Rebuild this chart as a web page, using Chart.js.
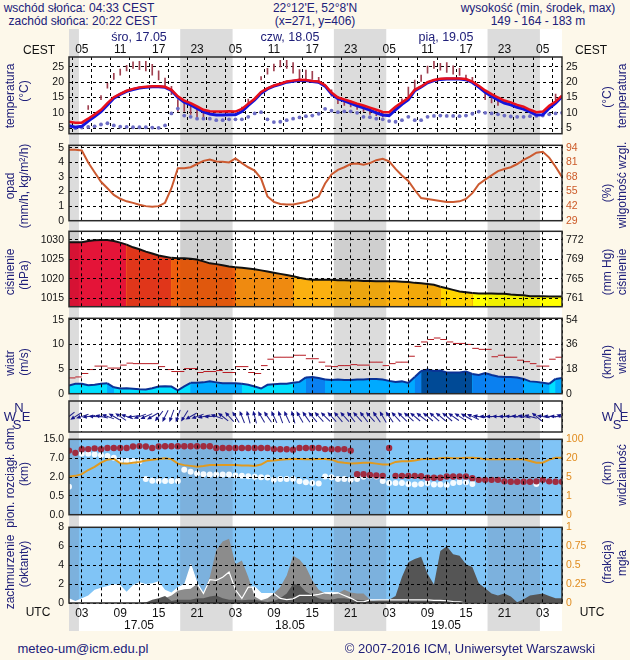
<!DOCTYPE html>
<html>
<head>
<meta charset="utf-8">
<title>meteogram</title>
<script src="https://cdn.jsdelivr.net/npm/chart.js@4/dist/chart.umd.min.js"></script>
<style>
    html, body { margin: 0; padding: 0; background: #fdf8ea; }
    body { position: relative; width: 630px; height: 660px; overflow: hidden; font-family: "Liberation Sans", Arial, sans-serif; }
    canvas { position: absolute; left: 0; }
    .txt { position: absolute; white-space: nowrap; font-size: 12px; color: #20207a; line-height: 1; }
</style>
</head>
<body>
<script>
// hours since 01 UTC on 17.05, one point per hour
var hours = [];
for (var h = 0; h <= 77; h++) hours.push(h);
var gridHours = [2, 5, 8, 11, 14, 17, 20, 23, 26, 29, 32, 35, 38, 41, 44, 47, 50, 53, 56, 59, 62, 65, 68, 71, 74, 77];
var cestLabels = ['05', '11', '17', '23', '05', '11', '17', '23', '05', '11', '17', '23', '05'];
var utcLabels = ['03', '09', '15', '21', '03', '09', '15', '21', '03', '09', '15', '21', '03'];
var nightBands = [[0, 1.55], [17.37, 25.55], [41.37, 49.55], [65.37, 73.55]];

var tempRed = [
    7.1, 6.8, 6.8, 8.1, 9.5, 11, 13.2, 15.1, 16.2, 17.2,
    17.8, 18.3, 18.5, 18.7, 18.7, 18.5, 17.5, 15.4, 14, 13.2,
    12.1, 11, 10.5, 10.4, 10.4, 10.5, 10.4, 11.3, 13, 14.6,
    16.8, 18, 18.9, 19.5, 20.2, 20.5, 20.8, 20.7, 20.4, 20.2,
    19, 16.6, 15, 14.4, 13.7, 13, 12.4, 11.7, 11, 10.3,
    10.2, 12, 13.4, 14.9, 17.5, 18.6, 20, 20.7, 21.1, 21.2,
    21.2, 21.2, 21, 20.2, 18.8, 17.3, 16.1, 15, 14, 13.4,
    12.6, 12, 11, 10.2, 10.4, 12.3, 13.7, 15.6
];
var tempBlue = [
    5.8, 5.3, 5.6, 7.3, 8.8, 10.4, 12.6, 14.8, 16, 17,
    17.6, 18.1, 18.3, 18.5, 18.5, 18.3, 17.3, 15, 13.5, 12.6,
    11.4, 10.3, 9.6, 9.3, 9.3, 9.4, 9.4, 10.4, 12.4, 14.2,
    16.4, 17.8, 18.7, 19.3, 20, 20.3, 20.6, 20.5, 20.2, 20,
    18.7, 16.2, 14.6, 13.9, 13.1, 12.3, 11.6, 10.9, 10, 9.3,
    9.1, 11, 12.8, 14.3, 17.2, 18.4, 19.8, 20.5, 20.9, 21,
    21, 21, 20.8, 19.9, 18.4, 16.7, 15.4, 14.2, 13.2, 12.6,
    11.8, 11.2, 10.3, 9.3, 9.4, 11.5, 13.2, 15.3
];
var dewPoint = [
    5.6, 5, 5.2, 5.4, 5.6, 6.2, 6.6, 5.9, 5.5, 5.4,
    5.3, 5.3, 5.3, 5.2, 5.1, 5.9, 9.8, 11.4, 9.1, 8.7,
    8.1, 8.1, 8.1, 7.6, 7.6, 7.9, 7.9, 7.9, 8.7, 9.8,
    10.2, 7.9, 7, 7.1, 7.6, 8.1, 8.5, 8.9, 9.1, 9.7,
    11.3, 10.7, 10.2, 10.5, 10.5, 10, 8.7, 8.6, 8.1, 7.9,
    7.3, 7.1, 7.6, 8.7, 7.6, 7.6, 8.7, 9, 9.1, 9,
    9, 8.9, 9.1, 9.7, 10.4, 10, 9.8, 9.5, 9.1, 8.8,
    8.7, 8.7, 8.9, 9, 9.1, 9.5, 9.8, 10
];
var tempSpreadTop = [
    null, null, null, 12.4, null, 15.6, 19.6, 22.9, 24.3, 25.5,
    26.6, 26.8, 26.8, 25.8, 23.7, 21.3, 18.6, 14.3, 13.8, 12.4,
    11.3, 10.9, null, null, null, null, null, 11.9, 14.5, null,
    21.8, 24.5, 25.9, 27.1, 27.1, 26.4, 24.1, 23.9, 23.5, 21.6,
    null, 17.5, 15.4, 14.3, 13.8, 12.7, 12.1, 11.6, 11.1, 10.5,
    null, null, 14.6, 18.4, 20.7, 22.3, 25.2, 26.8, 26.1, 26.4,
    25.3, 24.5, 22.3, 21.6, null, 16.6, 15.9, 14.8, null, null,
    null, null, null, null, null, null, 16.1, null
];
var tempSpreadBottom = [
    null, null, null, 11.1, null, 14.3, 18, 20.9, 22.3, 23.7,
    24.5, 24.1, 23.7, 22.3, 20.7, 18.8, 15.9, 10.5, 10.5, 9.5,
    8.1, 7.9, null, null, null, null, null, 10.5, 13, null,
    20.7, 22.6, 23.7, 25, 24.5, 22.9, 21.1, 21.1, 20.9, 19.6,
    null, 15.4, 13, 12.4, 11.9, 11.1, 10.5, 9.5, 9.1, 8.7,
    null, null, 13.2, 15.1, 17.5, 20.2, 22.9, 24.5, 23.9, 23.2,
    22.6, 22.2, 20.5, 19.9, null, 14.3, 13.2, 12.4, null, null,
    null, null, null, null, null, null, 14.3, null
];
var humidity = [
    92.3, 92.3, 91.7, 81, 72.3, 63.7, 58, 52, 48.6, 46.3,
    44.9, 43.2, 42, 41.4, 42, 45, 58, 75.8, 75.8, 76.7,
    79.6, 82.4, 83.6, 81.9, 81.6, 81, 84.5, 80.4, 76.7, 73.8,
    66.6, 50.7, 45.8, 44, 43.4, 43.4, 44.6, 45.8, 47.8, 50.7,
    62.2, 70.3, 74.4, 76.7, 79.6, 80.1, 79, 80.4, 83, 84.2,
    81.9, 75.2, 69.4, 64.5, 56.4, 49.2, 48.4, 47.5, 46.6, 45.8,
    45.8, 46.3, 48.4, 53.6, 61.6, 65.7, 69.4, 73.2, 75.2, 76.7,
    79.6, 83.3, 86.2, 89.7, 90.5, 85.3, 77.2, 68
];
var pressure = [
    1029.4, 1029.4, 1029.4, 1029.7, 1029.9, 1030, 1030, 1029.7, 1029.3, 1028.8,
    1028.1, 1027.6, 1027, 1026.5, 1026, 1025.7, 1025.4, 1025.3, 1025.3, 1025.2,
    1025, 1024.5, 1024, 1023.8, 1023.5, 1023.2, 1023, 1022.9, 1022.7, 1022.5,
    1022.2, 1021.9, 1021.6, 1021.3, 1021, 1020.7, 1020.3, 1020, 1019.8, 1019.8,
    1019.8, 1019.8, 1019.7, 1019.7, 1019.6, 1019.6, 1019.5, 1019.5, 1019.4, 1019.4,
    1019.4, 1019.4, 1019.3, 1019.2, 1019, 1018.9, 1018.7, 1018.5, 1018, 1017.6,
    1017.2, 1016.8, 1016.6, 1016.4, 1016.3, 1016.3, 1016.3, 1016.2, 1016.2, 1016,
    1015.9, 1015.8, 1015.6, 1015.6, 1015.6, 1015.5, 1015.5, 1015.5
];
var windMean = [
    1.65, 2, 2, 1.7, 1.8, 2, 2.1, 1.3, 1.05, 1.1,
    1, 0.9, 0.85, 1.1, 1.45, 1.5, 1.45, 0.7, 1.5, 2.2,
    2.2, 2.3, 2.5, 2.3, 2.1, 2.1, 2.1, 2, 1.8, 1.45,
    1.05, 1.8, 1.9, 2, 2, 2.2, 2.4, 3.3, 3.4, 3.2,
    2.9, 2.8, 2.9, 2.8, 2.8, 2.9, 2.9, 3, 3, 2.9,
    2.6, 2.4, 2.5, 2.2, 3.4, 4.6, 4.9, 4.6, 4.7, 4.3,
    4.3, 4.3, 4.5, 4, 3.8, 4.2, 3.8, 3.5, 3.4, 3.4,
    3.3, 3, 2.5, 2.4, 2.2, 2, 3, 3.2
];
var windGust = [
    3.2, 3.4, 4.1, 4.9, 5.6, 5.6, 5.2, 5.2, 5.8, 6.2,
    6.1, 6.1, 6.1, 6.1, 5.5, 4.9, 4.5, 4.5, 5.1, 5.1,
    4.3, 4.5, 4.5, 4.7, 4.3, 4.3, 5.5, 5.5, 4.3, 4.1,
    5.7, 7, 7.4, 7.4, 7.4, 7.8, 7.8, 7.1, 7.1, 6.4,
    5.6, 5.5, 5.7, 5.7, 5.9, 5.8, 5.8, 6.4, 6.4, 5.7,
    6.1, 6.4, 6.4, 7.6, 9.6, 10.5, 11, 11.3, 11, 10.5,
    10.2, 10.2, 10, 9.2, 9, 9, 7.5, 7.8, 7.4, 7.4,
    6.8, 6.5, 6.1, 5.6, 5.6, 7, 7.4
];
// heading the wind blows towards, degrees clockwise from north
var windHeading = [
    232, 238, 252, 262, 272, 282, 290, 300, 304, 290,
    262, 250, 246, 240, 218, 206, 200, 200, 212, 240,
    250, 258, 268, 290, 308, 318, 328, 338, 345, 345,
    330, 325, 335, 340, 335, 345, 330, 325, 320, 318,
    315, 318, 320, 318, 322, 318, 322, 318, 325, 330,
    325, 318, 315, 312, 310, 308, 310, 312, 310, 310,
    305, 303, 300, 295, 280, 272, 270, 272, 272, 275,
    278, 282, 285, 310, 280, 275, 275, 290
];
// the chm./visibility axis is stretched, so these three are read in tick steps (0..4)
var cloudBaseSteps = [
    3.4, 3.28, 3.47, 3.48, 3.52, 3.47, 3.54, 3.54, 3.54, 3.54,
    3.62, 3.64, 3.62, 3.54, 3.62, 3.63, 3.63, 3.63, 3.63, 3.63,
    3.63, 3.63, 3.63, 3.54, 3.54, 3.54, 3.54, 3.54, 3.54, 3.54,
    3.54, 3.54, 3.48, 3.47, 3.47, 3.45, 3.54, 3.54, 3.54, 3.54,
    3.48, 3.47, 3.47, 3.48, 3.4, 2.15, 2.15, 2.11, 2.08, 2.06,
    3.54, 2.06, 2.06, 2.06, 2.06, 2.04, 1.96, 1.96, 1.96, 2.03,
    2.03, 2.03, 2.03, 1.94, 1.85, 1.85, 1.85, 1.85, 1.77, 1.75,
    1.75, 1.75, 1.75, 1.77, 1.85, 1.77, 1.75, 1.75
];
var mixingSteps = [
    1.48, null, 3.23, 3.23, 3.19, 3.16, 3.12, 3.02, 2.88, 2.85,
    2.85, 2.82, 1.89, 1.8, 1.79, 1.79, 1.79, 1.79, 2.39, 2.28,
    2.18, 2.15, 2.13, 2.13, 2.13, 2.13, 2.08, 2.06, 2.04, 2.01,
    1.99, 1.97, 1.85, 1.89, 1.89, 1.89, 1.77, 1.72, 1.68, 1.65,
    2.03, 1.99, 1.89, 1.89, 1.85, 1.89, 2.01, 2.06, 2.03, 1.79,
    1.68, 1.68, 1.68, 1.63, 1.6, 1.63, 1.68, 1.6, 1.6, 1.58,
    1.68, 1.72, 1.72, 1.63, null, null, null, null, null, null,
    null, null, null, 1.63, null, null, null, null
];
var visibilitySteps = [
    2.03, 2.06, 2.15, 2.37, 2.54, 2.76, 2.92, 2.97, 2.73, 2.71,
    2.76, 2.8, 2.88, 2.92, 2.95, 2.99, 2.95, 2.71, 2.63, 2.59,
    2.54, 2.58, 2.63, 2.63, 2.63, 2.63, 2.63, 2.61, 2.61, 2.59,
    2.66, 2.85, 2.88, 2.92, 2.94, 2.95, 2.95, 2.94, 2.94, 2.95,
    2.95, 2.92, 2.8, 2.75, 2.71, 2.73, 2.75, 2.76, 2.71, 2.66,
    2.66, 2.8, 2.83, 2.83, 2.88, 2.94, 2.97, 2.95, 2.99, 3.02,
    3, 3, 3.02, 3.02, 3, 2.94, 2.94, 2.94, 2.94, 2.94,
    2.95, 2.94, 2.85, 2.76, 2.76, 2.92, 3.02, 3.02
];
var cloudHigh = [
    0.5, 0.2, 0.5, 0.8, 1.4, 1.6, 1.8, 2, 1.9, 1.2,
    1.9, 2.2, 2, 2.1, 2.3, 1.4, 1.1, 1.7, 2, 4.1,
    2.1, 1, 2.5, 2.4, 2.75, 3.3, 1.4, 0.5, 1.7, 1.65,
    1, 1, 1, 0.5, 0.35, 0.45, 0.8, 0.8, 0.8, 0.9,
    1.1, 1.1, 1.1, 0.8, 0.5, 0.15, 0.1, 0.3, 0, 0,
    0, 0, 0, 0, 0, 0, 0, 0, 0, 0,
    0, 0, 0, 0, 0, 0, 0, 0, 0, 0,
    0, 0, 0, 0, 0, 0, 0, 0
];
var cloudMid = [
    0, 0, 0, 0, 0, 0, 0, 0, 0, 0,
    0, 0, 0, 0.1, 0.3, 0.5, 0.8, 1.3, 1.45, 1.5,
    2, 1, 2.75, 5.6, 6.5, 6.8, 4.1, 4.5, 2.75, 0.7,
    0.3, 0.5, 1, 1.7, 2.9, 5, 4.6, 3.8, 2.4, 1.4,
    1, 0.9, 1, 1.4, 1.1, 1, 1, 0.35, 0.1, 0.1,
    0.1, 0.3, 0.7, 0.8, 0.2, 0, 0, 0, 0, 0,
    0, 0, 0, 0, 0, 0, 0, 0, 0, 0,
    0, 0, 0, 0, 0, 0, 0, 0
];
var cloudLow = [
    0, 0, 0, 0, 0, 0, 0, 0, 0, 0,
    0, 0, 0.05, 0.35, 0.5, 0.75, 0.2, 0.35, 0.35, 0.35,
    0.5, 0.5, 0.7, 0.8, 0.5, 0.35, 0.35, 0.3, 0.35, 0.35,
    0.2, 0.1, 0.2, 0.5, 1, 2, 1.9, 1.2, 0.85, 0.5,
    0.35, 0.35, 0.5, 0.5, 0.4, 0.35, 0.3, 0.2, 0.3, 0.35,
    0.35, 0.75, 2.75, 4.3, 4.65, 4.9, 3.1, 1.95, 5.5, 6,
    5.15, 5, 4.1, 3.8, 2.1, 1.55, 1, 0.8, 1, 0.7,
    0.07, 0.4, 0.8, 0.9, 1, 0.75, 0.5, 0.5
];
var fogFraction = [
    null, null, null, null, null, null, null, null, null, null,
    null, null, null, null, null, null, null, null, null, 0.51,
    0.26, 0.125, 0.31, 0.3, 0.34, 0.41, 0.175, 0.06, 0.21, 0.21,
    0.125, 0.125, 0.125, 0.06, 0.045, 0.055, 0.1, 0.1, 0.1, 0.115,
    0.135, 0.135, 0.135, 0.1, 0.065, 0.02, 0.015, 0.04, 0.04, 0.04,
    0.04, 0.04, 0.04, 0.04, 0.04, 0.04, 0.04, 0.035, 0.035, 0.03,
    0.02, 0.015, 0, 0, 0, 0, 0, 0, 0, 0,
    0, 0, 0, 0, 0, 0, 0, 0
];

var pressureLevels = [1029.2, 1025.6, 1023.2, 1020.9, 1019.3, 1018.4, 1016.5, 0];
var pressureColors = ['#e41438', '#e0361a', '#ee5e0e', '#ef8a10', '#fbb010', '#f2a80a', '#ffd400', '#ffff00'];
var windLevels = [4.25, 3.2, 2.05, 0];
var windColors = ['#004a96', '#0a80f0', '#00aaff', '#00e0ff'];

Chart.defaults.font.family = '"Liberation Sans", Arial, sans-serif';
Chart.defaults.font.size = 11;
Chart.defaults.animation = false;

var BLUE = '#80c4f6';

function pickColor(v, levels, colors) {
    for (var i = 0; i < levels.length; i++) {
        if (v >= levels[i]) return colors[i];
    }
    return colors[colors.length - 1];
}

function addCanvas(top, height) {
    var c = document.createElement('canvas');
    c.width = 630;
    c.height = height;
    c.style.top = top + 'px';
    c.style.width = '630px';
    c.style.height = height + 'px';
    document.body.appendChild(c);
    return c;
}

function fillBands(chart, color) {
    var a = chart.chartArea, x = chart.scales.x, ctx = chart.ctx;
    ctx.fillStyle = color;
    nightBands.forEach(function (b) {
        var x0 = x.getPixelForValue(b[0]), x1 = x.getPixelForValue(b[1]);
        ctx.fillRect(x0, a.top, x1 - x0, a.bottom - a.top);
    });
}

function drawArrow(ctx, x, y, heading) {
    ctx.save();
    ctx.translate(x, y);
    ctx.rotate(heading * Math.PI / 180);
    ctx.strokeStyle = '#20208c';
    ctx.fillStyle = '#14148c';
    ctx.lineWidth = 1;
    ctx.beginPath();
    ctx.moveTo(0, 7);
    ctx.lineTo(0, -2);
    ctx.stroke();
    ctx.beginPath();
    ctx.moveTo(0, -6);
    ctx.lineTo(-2, -1.5);
    ctx.lineTo(2, -1.5);
    ctx.closePath();
    ctx.fill();
    ctx.restore();
}

// white column with the night bands, behind all the panels
new Chart(addCanvas(29, 602), {
    type: 'line',
    data: { labels: hours, datasets: [] },
    options: {
        responsive: false,
        layout: { padding: { left: 69, right: 68, top: 0, bottom: 0 } },
        plugins: { legend: { display: false }, tooltip: { enabled: false } },
        scales: {
            x: { type: 'linear', min: 0, max: 77, display: false },
            y: { min: 0, max: 1, display: false }
        }
    },
    plugins: [{
        id: 'column',
        beforeDraw: function (chart) {
            var a = chart.chartArea;
            chart.ctx.fillStyle = '#fff';
            chart.ctx.fillRect(a.left, a.top, a.right - a.left, a.bottom - a.top);
            fillBands(chart, '#dcdcdc');
        }
    }]
});

function makePanel(p) {
    var topRoom = p.xLabels && p.xPos === 'top' ? 20 : 10;
    var botRoom = p.xLabels && p.xPos === 'bottom' ? 22 : 10;
    var canvas = addCanvas(p.top - topRoom, p.bottom - p.top + topRoom + botRoom);
    var gridZ = p.gridOnTop ? 1 : -1;

    function yAxis(side, cfg, withGrid) {
        return {
            position: side,
            min: cfg.min,
            max: cfg.max,
            afterBuildTicks: function (s) {
                s.ticks = (cfg.values || []).map(function (v) { return { value: v }; });
            },
            afterFit: function (s) { s.width = side === 'left' ? 69 : 68; },
            grid: { display: withGrid && !p.noYGrid, color: '#000', lineWidth: 1, drawTicks: false, z: gridZ },
            border: { display: false, dash: [3, 3] },
            ticks: {
                display: !!cfg.labels,
                autoSkip: false,
                padding: side === 'left' ? 5 : 4,
                color: cfg.color || '#111',
                font: { size: 10.5 },
                callback: function (v, i) { return cfg.labels ? cfg.labels[i] : ''; }
            }
        };
    }

    return new Chart(canvas, {
        type: 'line',
        data: { labels: hours, datasets: p.datasets },
        options: {
            responsive: false,
            layout: { padding: { top: p.xPos === 'top' ? 0 : 10, bottom: p.xPos === 'bottom' ? 0 : 10, left: 0, right: 0 } },
            plugins: { legend: { display: false }, tooltip: { enabled: false } },
            elements: { point: { radius: 0 }, line: { tension: 0 } },
            scales: {
                x: {
                    type: 'linear',
                    position: p.xPos || 'bottom',
                    min: 0,
                    max: 77,
                    offset: false,
                    afterBuildTicks: function (s) {
                        s.ticks = gridHours.map(function (v) { return { value: v }; });
                    },
                    afterFit: function (s) { s.height = p.xLabels ? (p.xPos === 'top' ? 20 : 22) : 0; },
                    grid: { color: '#000', lineWidth: 1, drawTicks: false, z: gridZ },
                    border: { display: false, dash: [3, 3] },
                    ticks: {
                        display: !!p.xLabels,
                        autoSkip: false,
                        maxRotation: 0,
                        padding: p.xPos === 'top' ? 0 : 3,
                        color: '#111',
                        font: { size: 12 },
                        callback: function (v, i) {
                            return p.xLabels && i % 2 === 0 ? p.xLabels[i / 2] : '';
                        }
                    }
                },
                y: yAxis('left', p.left, true),
                yr: yAxis('right', p.right, false)
            }
        },
        plugins: [{
            id: 'panelFrame',
            beforeDraw: function (chart) {
                if (!p.blue) return;
                var a = chart.chartArea;
                chart.ctx.fillStyle = BLUE;
                chart.ctx.fillRect(a.left, a.top, a.right - a.left, a.bottom - a.top);
                fillBands(chart, 'rgba(110,110,130,0.22)');
            },
            afterDatasetsDraw: function (chart) {
                if (p.bandShade) fillBands(chart, p.bandShade);
                if (p.headings) {
                    var a = chart.chartArea, ctx = chart.ctx;
                    ctx.save();
                    ctx.beginPath();
                    ctx.rect(a.left, a.top, a.right - a.left, a.bottom - a.top);
                    ctx.clip();
                    chart.getDatasetMeta(0).data.forEach(function (pt, i) {
                        drawArrow(ctx, pt.x, pt.y, p.headings[i]);
                    });
                    ctx.restore();
                }
            },
            afterDraw: function (chart) {
                var a = chart.chartArea, ctx = chart.ctx;
                ctx.save();
                ctx.strokeStyle = '#2a2a2a';
                ctx.lineWidth = 1.5;
                ctx.strokeRect(a.left, a.top, a.right - a.left, a.bottom - a.top);
                ctx.restore();
            }
        }]
    });
}

// temperature
makePanel({
    top: 57, bottom: 135, xPos: 'top', xLabels: cestLabels,
    left: { min: 3.2, max: 28.2, values: [5, 10, 15, 20, 25], labels: ['5', '10', '15', '20', '25'] },
    right: { min: 3.2, max: 28.2, values: [5, 10, 15, 20, 25], labels: ['5', '10', '15', '20', '25'] },
    datasets: [
        { label: 'temperatura', data: tempRed, borderColor: '#e8101c', borderWidth: 2.5 },
        { label: 'temperatura min', data: tempBlue, borderColor: '#1414dc', borderWidth: 3 },
        { label: 'punkt rosy', data: dewPoint, showLine: false, pointRadius: 1.9, pointBackgroundColor: '#6c6cc4', pointBorderWidth: 0 },
        {
            type: 'bar', label: 'rozrzut',
            data: tempSpreadTop.map(function (t, i) { return t === null ? null : [tempSpreadBottom[i], t]; }),
            backgroundColor: '#a04050', barThickness: 1
        }
    ]
});

// humidity
makePanel({
    top: 144, bottom: 222,
    left: { min: 0, max: 5.18, values: [0, 1, 2, 3, 4, 5], labels: ['0', '1', '2', '3', '4', '5'] },
    right: { min: 29, max: 96.3, values: [29, 42, 55, 68, 81, 94], labels: ['29', '42', '55', '68', '81', '94'], color: '#cc5a28' },
    datasets: [
        { label: 'wilgotność', data: humidity, yAxisID: 'yr', borderColor: '#cc5a30', borderWidth: 2 }
    ]
});

// pressure; the plain copy underneath hides the hairlines between colour steps
makePanel({
    top: 230, bottom: 308, gridOnTop: true, bandShade: 'rgba(0,0,0,0.06)',
    left: { min: 1012.9, max: 1032.2, values: [1015, 1020, 1025, 1030], labels: ['1015', '1020', '1025', '1030'] },
    right: { min: 1012.9, max: 1032.2, values: [1015, 1020, 1025, 1030], labels: ['761', '765', '769', '772'] },
    datasets: [
        {
            label: 'ciśnienie', data: pressure, borderColor: '#111', borderWidth: 2,
            fill: 'start', backgroundColor: pressureColors[0],
            segment: {
                backgroundColor: function (ctx) { return pickColor(ctx.p0.parsed.y, pressureLevels, pressureColors); }
            }
        },
        { label: 'ciśnienie tło', data: pressure, borderWidth: 0, fill: 'start', backgroundColor: '#ef7a10' }
    ]
});

// wind speed
makePanel({
    top: 317, bottom: 395, gridOnTop: true,
    left: { min: 0, max: 15.3, values: [0, 5, 10, 15], labels: ['0', '5', '10', '15'] },
    right: { min: 0, max: 15.3, values: [0, 5, 10, 15], labels: ['0', '18', '36', '54'] },
    datasets: [
        {
            label: 'porywy',
            data: windGust.map(function (v, i) { return { x: i + 0.5, y: v }; }),
            showLine: false, pointStyle: 'line', pointRadius: 3.3, pointBorderWidth: 1, pointBorderColor: '#b81c24'
        },
        {
            label: 'wiatr', data: windMean, borderColor: '#0a3296', borderWidth: 2,
            fill: 'origin', backgroundColor: windColors[3],
            segment: {
                backgroundColor: function (ctx) { return pickColor(ctx.p0.parsed.y, windLevels, windColors); }
            }
        },
        { label: 'wiatr tło', data: windMean, borderWidth: 0, fill: 'origin', backgroundColor: '#00aaff' }
    ]
});

// wind direction strip, arrows are placed on the chart's own points
makePanel({
    top: 401, bottom: 432, noYGrid: true, headings: windHeading,
    left: { min: -1, max: 1 },
    right: { min: -1, max: 1 },
    datasets: [{ label: 'kierunek', data: hours.map(function () { return 0; }), showLine: false }]
});

// cloud base, mixing height, visibility
makePanel({
    top: 438, bottom: 516, blue: true, gridOnTop: true,
    left: { min: 0, max: 4, values: [0, 1, 2, 3, 4], labels: ['0.0', '0.5', '2.0', '7.0', '15.0'] },
    right: { min: 0, max: 4, values: [0, 1, 2, 3, 4], labels: ['0', '1', '5', '20', '100'], color: '#e08c20' },
    datasets: [
        { label: 'podstawa chmur', data: cloudBaseSteps, showLine: false, pointRadius: 3.2, pointBackgroundColor: '#a02c40', pointBorderWidth: 0 },
        { label: 'widzialność', data: visibilitySteps, borderColor: '#e09a20', borderWidth: 2 },
        { label: 'rozciągłość', data: mixingSteps, showLine: false, pointRadius: 3, pointBackgroundColor: 'rgba(255,255,255,0.92)', pointBorderWidth: 0 }
    ]
});

// cloud cover and fog
makePanel({
    top: 526, bottom: 603, blue: true, gridOnTop: true, xPos: 'bottom', xLabels: utcLabels,
    left: { min: 0, max: 8, values: [0, 2, 4, 6, 8], labels: ['0', '2', '4', '6', '8'] },
    right: { min: 0, max: 1, values: [0, 0.25, 0.5, 0.75, 1], labels: ['0', '0.25', '0.5', '0.75', '1'], color: '#e08c20' },
    datasets: [
        { label: 'mgła', data: fogFraction, yAxisID: 'yr', borderColor: '#fff', borderWidth: 1.2 },
        { label: 'niskie', data: cloudLow, borderWidth: 0, fill: 'origin', backgroundColor: '#555555' },
        { label: 'średnie', data: cloudMid, borderWidth: 0, fill: 'origin', backgroundColor: '#8c8c8c' },
        { label: 'wysokie', data: cloudHigh, borderWidth: 0, fill: 'origin', backgroundColor: '#ffffff' }
    ]
});

// page text, centred on x,y; [text, x, y, rotation, colour, size]
var captions = [
    ['wschód słońca: 04:33 CEST', 79, 8], ['zachód słońca: 20:22 CEST', 83, 21],
    ["22°12'E, 52°8'N", 315, 8], ['(x=271, y=406)', 315, 21],
    ['wysokość (min, środek, max)', 538, 8], ['149 - 164 - 183 m', 538, 21],
    ['śro, 17.05', 139, 37, 0, 0, 12.5], ['czw, 18.05', 290, 37, 0, 0, 12.5], ['pią, 19.05', 446, 37, 0, 0, 12.5],
    ['CEST', 39, 50, 0, '#111'], ['CEST', 591, 50, 0, '#111'],
    ['UTC', 38, 612, 0, '#111'], ['UTC', 592, 612, 0, '#111'],
    ['17.05', 139, 625, 0, '#111'], ['18.05', 290, 625, 0, '#111'], ['19.05', 446, 625, 0, '#111'],
    ['meteo-um@icm.edu.pl', 83, 648, 0, 0, 13], ['© 2007-2016 ICM, Uniwersytet Warszawski', 470, 648, 0, 0, 13],
    ['temperatura', 10, 96, -90], ['(°C)', 24, 91, -90], ['(°C)', 607, 97, -90], ['temperatura', 622, 96, -90],
    ['opad', 10, 186, -90], ['(mm/h, kg/m²/h)', 24, 186, -90], ['(%)', 607, 193, -90], ['wilgotność wzgl.', 622, 185, -90],
    ['ciśnienie', 10, 272, -90], ['(hPa)', 24, 275, -90], ['(mm Hg)', 607, 272, -90], ['ciśnienie', 622, 272, -90],
    ['wiatr', 10, 363, -90], ['(m/s)', 24, 362, -90], ['(km/h)', 607, 362, -90], ['wiatr', 622, 361, -90],
    ['pion. rozciągł. chm.', 10, 476, -90], ['(km)', 24, 474, -90], ['(km)', 607, 473, -90], ['widzialność', 622, 475, -90],
    ['zachmurzenie', 10, 572, -90], ['(oktanty)', 24, 564, -90], ['(frakcja)', 607, 562, -90], ['mgła', 622, 563, -90],
    ['W', 10, 416, 0, 0, 13], ['N', 19, 407, 0, 0, 13], ['E', 26, 416, 0, 0, 13], ['S', 17, 424, 0, 0, 13],
    ['W', 608, 416, 0, 0, 13], ['N', 618, 407, 0, 0, 13], ['E', 624, 416, 0, 0, 13], ['S', 617, 424, 0, 0, 13]
];
captions.forEach(function (c) {
    var s = document.createElement('span');
    s.className = 'txt';
    s.textContent = c[0];
    s.style.left = c[1] + 'px';
    s.style.top = c[2] + 'px';
    s.style.transform = 'translate(-50%,-50%)' + (c[3] ? ' rotate(' + c[3] + 'deg)' : '');
    if (c[4]) s.style.color = c[4];
    if (c[5]) s.style.fontSize = c[5] + 'px';
    document.body.appendChild(s);
});
</script>
</body>
</html>
